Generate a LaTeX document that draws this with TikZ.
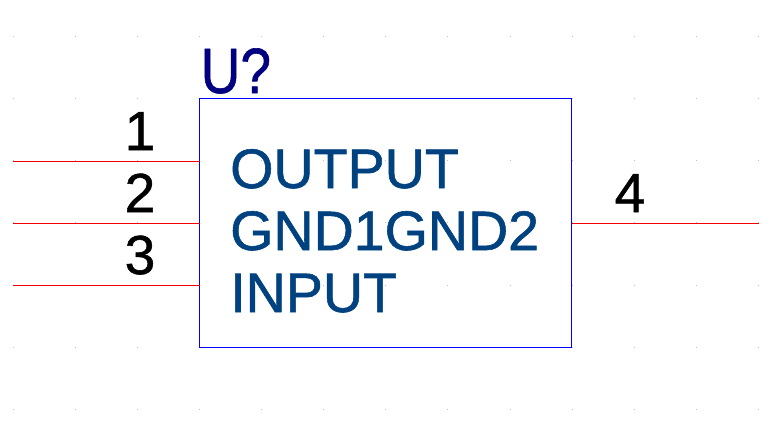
\documentclass[tikz,border=0pt]{standalone}
\usepackage{fontspec}
\setmainfont{Liberation Sans}
\newfontfamily\thickface[FakeBold=1]{Liberation Sans}
\definecolor{pinline}{RGB}{240,0,0}
\definecolor{boxline}{RGB}{0,0,255}
\definecolor{refname}{RGB}{0,0,128}
\definecolor{pintext}{RGB}{0,66,128}
\definecolor{griddot}{RGB}{192,192,192}
\tikzset{
  partbox/.style={draw=boxline,line width=1pt,minimum width=372pt,minimum height=249pt,inner sep=0pt,outer sep=0pt},
  pinwire/.style={draw=pinline,line width=1pt},
  pinnum/.style={anchor=base,inner sep=0pt,text=black,font=\thickface\fontsize{55}{55}\selectfont},
  pinname/.style={anchor=base west,inner sep=0pt,text=pintext,font=\thickface\fontsize{55.6}{56}\selectfont},
  refdes/.style={anchor=base west,inner sep=0pt,text=refname,xscale=0.86,font=\thickface\fontsize{64}{64}\selectfont}
}
\begin{document}
\begin{tikzpicture}[x=1pt,y=-1pt]
\useasboundingbox (0,0) rectangle (773,426);
\foreach \gx in {13,75,137,199,261,323,385,447,510,572,634,696,758}
  \foreach \gy in {36,98,160,222,285,347,409}
    \fill[griddot] (\gx-0.5,\gy-0.5) rectangle (\gx+0.5,\gy+0.5);
\node[partbox] (box) at (385.5,222.5) {};
\coordinate (p1) at (13,161);
\coordinate (p2) at (13,223);
\coordinate (p3) at (13,285);
\coordinate (p4) at (759,223);
\draw[pinwire] (p1) -- (p1 -| box.west);
\draw[pinwire] (p2) -- (p2 -| box.west);
\draw[pinwire] (p3) -- (p3 -| box.west);
\draw[pinwire] (p4) -- (p4 -| box.east);
\node[refdes] (ref) at (200.5,93) {U?};
\node[pinnum] (n1) at (140,150) {1};
\node[pinnum] (n2) at (140,212) {2};
\node[pinnum] (n3) at (140,274) {3};
\node[pinnum] (n4) at (630,212) {4};
\node[pinname] (t1) at (230,188) {OUTPUT};
\node[pinname] (t2) at (230,250) {GND1GND2};
\node[pinname] (t3) at (230,312) {INPUT};
\end{tikzpicture}
\end{document}
